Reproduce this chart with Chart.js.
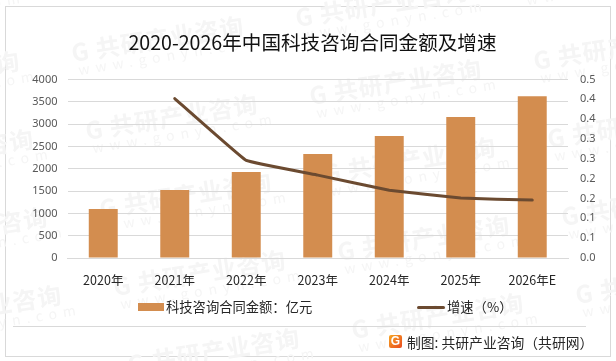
<!DOCTYPE html>
<html>
<head>
<meta charset="utf-8">
<script src="https://cdn.jsdelivr.net/npm/chart.js@4"></script>
<style>
  html, body { margin: 0; padding: 0; background: #fff; }
  body { width: 616px; height: 361px; position: relative; overflow: hidden; font-family: "Noto Sans CJK SC", sans-serif; }
  #c { position: absolute; left: 0; top: 0; }
  .frame { position: absolute; left: 5px; top: 6px; width: 604px; height: 349px; border: 1px solid #d9d9d9; }
  .rule { position: absolute; left: 13px; top: 326px; width: 573px; height: 1px; background: #d9d9d9; }
  .legend span { position: absolute; white-space: nowrap; }
  .lg-text { top: 298px; font-size: 13.3px; line-height: 18px; color: #262626; }
  .credit { position: absolute; left: 407px; top: 333px; font-size: 13.8px; line-height: 18px; color: #262626; white-space: nowrap; }
  .logo { position: absolute; left: 389px; top: 335px; width: 13px; height: 13px; border-radius: 2px; background: linear-gradient(135deg, #f6a623, #ea4a1f); color: #fff; font: bold 12px/13px "Liberation Sans", sans-serif; text-align: center; }
</style>
</head>
<body>
<div class="frame"></div>
<canvas id="c" width="616" height="361"></canvas>
<div class="rule"></div>
<div class="legend" id="legend"></div>
<div class="logo">G</div>
<div class="credit">制图: 共研产业咨询（共研网）</div>
<script>
const categories = ["2020年", "2021年", "2022年", "2023年", "2024年", "2025年", "2026年E"];
const contractValues = [1100, 1526, 1930, 2330, 2733, 3158, 3625];
const growthValues = [null, 0.402, 0.246, 0.209, 0.171, 0.151, 0.146];
const growthTickLabels = ["0.0", "0.1", "0.1", "0.2", "0.2", "0.3", "0.3", "0.4", "0.4", "0.5"];

const barColor = "#d38d4f";
const lineColor = "#6b4a30";
const gridColor = "#d9d9d9";
const tickColor = "#595959";
const cjk = '"Noto Sans CJK SC", sans-serif';

// pale site watermark behind the plot
const watermark = {
  id: "watermark",
  beforeDraw(chart) {
    const c = chart.ctx;
    c.save();
    for (let col = -1; col < 3; col++) {
      for (let row = -1; row < 5; row++) {
        c.save();
        c.translate(73 + col * 224 + row * 14, 62 - col * 35 + row * 78);
        c.rotate(-0.16);
        c.fillStyle = "#f5f5f5";
        c.font = "bold 24px " + cjk;
        c.letterSpacing = "1px";
        c.fillText("G 共研产业咨询", 0, 0);
        c.font = "14px " + cjk;
        c.letterSpacing = "6px";
        c.fillText("www.gonyn.com", 4, 14);
        c.letterSpacing = "0px";
        c.restore();
      }
    }
    c.restore();
  }
};

const chart = new Chart(document.getElementById("c"), {
  data: {
    labels: categories,
    datasets: [
      {
        type: "line",
        label: "增速（%）",
        data: growthValues,
        yAxisID: "y2",
        borderColor: lineColor,
        backgroundColor: lineColor,
        borderWidth: 3,
        borderCapStyle: "round",
        tension: 0.06,
        pointRadius: 0,
        order: 1
      },
      {
        type: "bar",
        label: "科技咨询合同金额：亿元",
        data: contractValues,
        yAxisID: "y",
        backgroundColor: barColor,
        categoryPercentage: 1,
        barPercentage: 0.405,
        order: 2
      }
    ]
  },
  options: {
    responsive: false,
    animation: false,
    layout: { padding: { left: 9, right: 0, top: 0, bottom: 0 } },
    plugins: {
      legend: { display: false },
      tooltip: { enabled: false },
      title: {
        display: true,
        text: "2020-2026年中国科技咨询合同金额及增速",
        color: "#111111",
        font: { family: cjk, size: 19.6, weight: "normal" },
        padding: { top: 31, bottom: 25 }
      }
    },
    scales: {
      x: {
        grid: { display: false },
        border: { color: gridColor },
        ticks: { color: "#262626", font: { family: cjk, size: 12.5 }, padding: 7, maxRotation: 0 },
        afterFit(s) { s.height = 103; }
      },
      y: {
        position: "left",
        min: 0,
        max: 4000,
        grid: { color: gridColor, drawTicks: false },
        border: { display: false },
        ticks: {
          stepSize: 500,
          color: tickColor,
          font: { family: '"Noto Sans", sans-serif', size: 11 },
          padding: 10,
          callback: v => String(v)
        },
        afterFit(s) { s.width = 58.5; }
      },
      y2: {
        position: "right",
        min: 0,
        max: 0.45,
        grid: { display: false, drawTicks: false },
        border: { display: false },
        ticks: {
          stepSize: 0.05,
          color: tickColor,
          font: { family: '"Noto Sans", sans-serif', size: 11 },
          padding: 12,
          callback: (v, i) => growthTickLabels[i]
        },
        afterFit(s) { s.width = 48; }
      }
    }
  },
  plugins: [watermark]
});

// html legend, placed like the original
const legendBox = document.getElementById("legend");
const barSet = chart.data.datasets[1];
const lineSet = chart.data.datasets[0];
legendBox.innerHTML =
  '<span style="left:138px;top:303px;width:26px;height:8px;background:' + barSet.backgroundColor + '"></span>' +
  '<span class="lg-text" style="left:166px">' + barSet.label + '</span>' +
  '<span style="left:417px;top:306px;width:28px;height:3px;border-radius:2px;background:' + lineSet.borderColor + '"></span>' +
  '<span class="lg-text" style="left:447px">' + lineSet.label + '</span>';
</script>
</body>
</html>
